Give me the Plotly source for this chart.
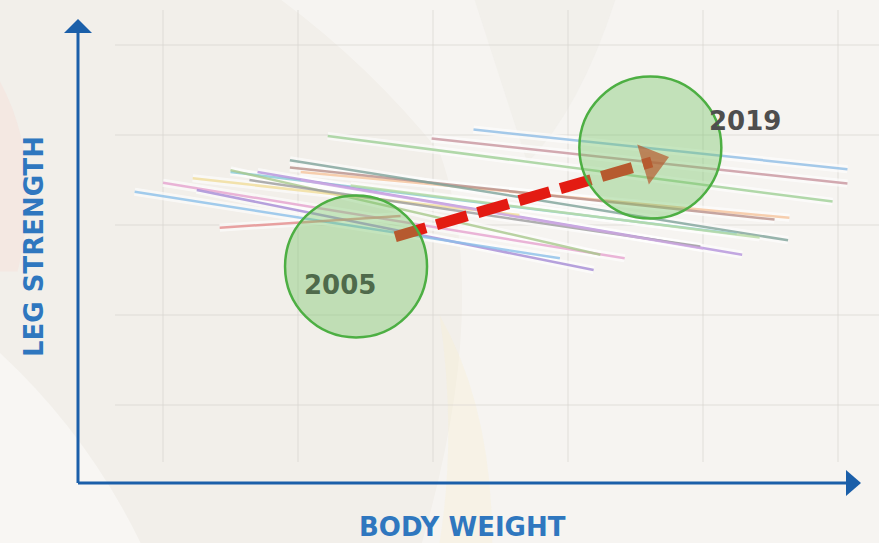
import plotly.graph_objects as go

# ---- data (arbitrary units: body weight on x, leg strength on y) ----
x_grid = [1, 2, 3, 4, 5, 6]
y_grid = [1, 2, 3, 4, 5]

# individual athlete trend lines: start/end points
line_x0 = [3.30, 2.99, 2.22, 2.02, 1.94, 1.94, 1.50, 1.70, 1.00, 1.25, 0.79, 1.50, 1.42, 1.22, 1.64, 2.02, 2.39]
line_y0 = [4.06, 3.96, 3.99, 3.59, 3.64, 3.72, 3.59, 3.59, 3.47, 3.39, 3.37, 3.61, 2.97, 3.52, 3.50, 3.50, 3.44]
line_x1 = [6.07, 6.07, 5.96, 5.64, 5.53, 5.63, 5.25, 5.29, 4.42, 4.19, 3.94, 4.24, 2.76, 3.64, 4.98, 5.00, 5.42]
line_y1 = [3.62, 3.46, 3.26, 3.08, 3.06, 2.83, 2.90, 2.67, 2.63, 2.50, 2.63, 2.67, 3.10, 3.11, 2.76, 2.74, 2.86]
line_colors = ["#8fbde6", "#c9959f", "#9fd096", "#f6c49c", "#b9908a", "#7fa39a",
               "#86cbd6", "#b493dc", "#e6a3cf", "#a58bd6", "#8cc0ea", "#a9c98d",
               "#e48c8c", "#f1dd9a", "#9c9c9c", "#cfa9e4", "#b6dba4"]

years = ["2005", "2019"]
year_x = [2.43, 4.61]
year_y = [2.54, 3.86]

trend_x = [2.72, 4.62]
trend_y = [2.87, 3.70]

fig = go.Figure()

# px helpers for layout: x_px = 28 + 135*x, y_px = 495 - 90*y
XR = [-28 / 135, 851 / 135]
YR = [-48 / 90, 495 / 90]

# background swooshes
shapes = []
shapes.append(dict(type="path", xref="paper", yref="paper", layer="below",
                   path="M 0.32,1 L 1,1 L 1,0 L 0.48,0 Q 0.56,0.45 0.50,0.72 Q 0.42,0.88 0.32,1 Z",
                   fillcolor="rgba(255,255,255,0.35)", line=dict(width=0)))
shapes.append(dict(type="path", xref="paper", yref="paper", layer="below",
                   path="M 0.54,1 L 0.70,1 Q 0.66,0.80 0.60,0.70 Q 0.57,0.85 0.54,1 Z",
                   fillcolor="rgba(238,235,230,0.5)", line=dict(width=0)))
shapes.append(dict(type="path", xref="paper", yref="paper", layer="below",
                   path="M 0.50,0.42 Q 0.52,0.2 0.50,0 L 0.56,0 Q 0.56,0.25 0.50,0.42 Z",
                   fillcolor="rgba(250,238,205,0.3)", line=dict(width=0)))
shapes.append(dict(type="path", xref="paper", yref="paper", layer="below",
                   path="M 0,0.85 Q 0.05,0.70 0.02,0.50 L 0,0.50 Z",
                   fillcolor="rgba(250,215,210,0.3)", line=dict(width=0)))
shapes.append(dict(type="path", xref="paper", yref="paper", layer="below",
                   path="M 0,0.35 Q 0.10,0.20 0.16,0 L 0,0 Z",
                   fillcolor="rgba(255,255,255,0.45)", line=dict(width=0)))

# grid
for gx in x_grid:
    shapes.append(dict(type="line", x0=gx, x1=gx, y0=(495 - 462) / 90, y1=(495 - 10) / 90,
                       line=dict(color="rgba(215,212,207,0.7)", width=1), layer="below"))
for gy in y_grid:
    shapes.append(dict(type="line", x0=(115 - 28) / 135, x1=XR[1], y0=gy, y1=gy,
                       line=dict(color="rgba(215,212,207,0.7)", width=1), layer="below"))

# axes
ox, oy = (78 - 28) / 135, (495 - 483) / 90
axis_col = "#1b5fa9"
shapes.append(dict(type="line", x0=ox, x1=ox, y0=oy, y1=(495 - 33) / 90,
                   line=dict(color=axis_col, width=3)))
shapes.append(dict(type="line", x0=ox, x1=(846 - 28) / 135, y0=oy, y1=oy,
                   line=dict(color=axis_col, width=3)))
shapes.append(dict(type="path", xsizemode="pixel", ysizemode="pixel",
                   xanchor=ox, yanchor=(495 - 33) / 90,
                   path="M -14,0 L 14,0 L 0,14 Z", fillcolor=axis_col, line=dict(width=0)))
shapes.append(dict(type="path", xsizemode="pixel", ysizemode="pixel",
                   xanchor=(846 - 28) / 135, yanchor=oy,
                   path="M 0,-13 L 0,13 L 15,0 Z", fillcolor=axis_col, line=dict(width=0)))

# athlete lines: white halo then coloured stroke
for i in range(len(line_x0)):
    fig.add_trace(go.Scatter(x=[line_x0[i], line_x1[i]], y=[line_y0[i], line_y1[i]],
                             mode="lines", line=dict(color="white", width=8),
                             opacity=0.6, hoverinfo="skip", showlegend=False))
for i in range(len(line_x0)):
    fig.add_trace(go.Scatter(x=[line_x0[i], line_x1[i]], y=[line_y0[i], line_y1[i]],
                             mode="lines", line=dict(color=line_colors[i], width=2.5),
                             opacity=0.8, hoverinfo="skip", showlegend=False))

# trend arrow
fig.add_trace(go.Scatter(x=trend_x, y=trend_y, mode="lines+markers",
                         line=dict(color="#e31b12", width=11, dash="32px,11px", backoff=0),
                         marker=dict(symbol=["circle", "triangle-up"], size=[0, 36],
                                     angleref="previous", color="#e31b12",
                                     line=dict(width=0)),
                         hoverinfo="skip", showlegend=False))

# year circles
fig.add_trace(go.Scatter(x=year_x, y=year_y, mode="markers",
                         marker=dict(size=142, color="rgba(110,195,95,0.38)",
                                     line=dict(color="#4daf43", width=2.5)),
                         hoverinfo="skip", showlegend=False))

annotations = [
    dict(x=year_x[0], y=year_y[0], text=years[0], showarrow=False, xshift=-16, yshift=-19,
         font=dict(family="DejaVu Sans", size=26, color="#4f6a4b", weight="bold")),
    dict(x=year_x[1], y=year_y[1], text=years[1], showarrow=False, xshift=95, yshift=27,
         font=dict(family="DejaVu Sans", size=26, color="#4e4e4e", weight="bold")),
    dict(x=(34 - 28) / 135, y=(495 - 247) / 90, text="LEG STRENGTH", showarrow=False,
         textangle=-90,
         font=dict(family="DejaVu Sans", size=26, color="#2f77bf", weight="bold")),
    dict(x=(462 - 28) / 135, y=(495 - 527) / 90, text="BODY WEIGHT", showarrow=False,
         font=dict(family="DejaVu Sans", size=26, color="#2f77bf", weight="bold")),
]

fig.update_layout(
    width=879, height=543,
    margin=dict(l=0, r=0, t=0, b=0),
    paper_bgcolor="#f2efea", plot_bgcolor="rgba(0,0,0,0)",
    xaxis=dict(range=XR, visible=False, fixedrange=True),
    yaxis=dict(range=YR, visible=False, fixedrange=True),
    shapes=shapes, annotations=annotations, showlegend=False,
)

fig.write_html("out.html", config={"displayModeBar": False},
               post_script="document.body.style.margin='0';document.body.style.overflow='hidden';")
